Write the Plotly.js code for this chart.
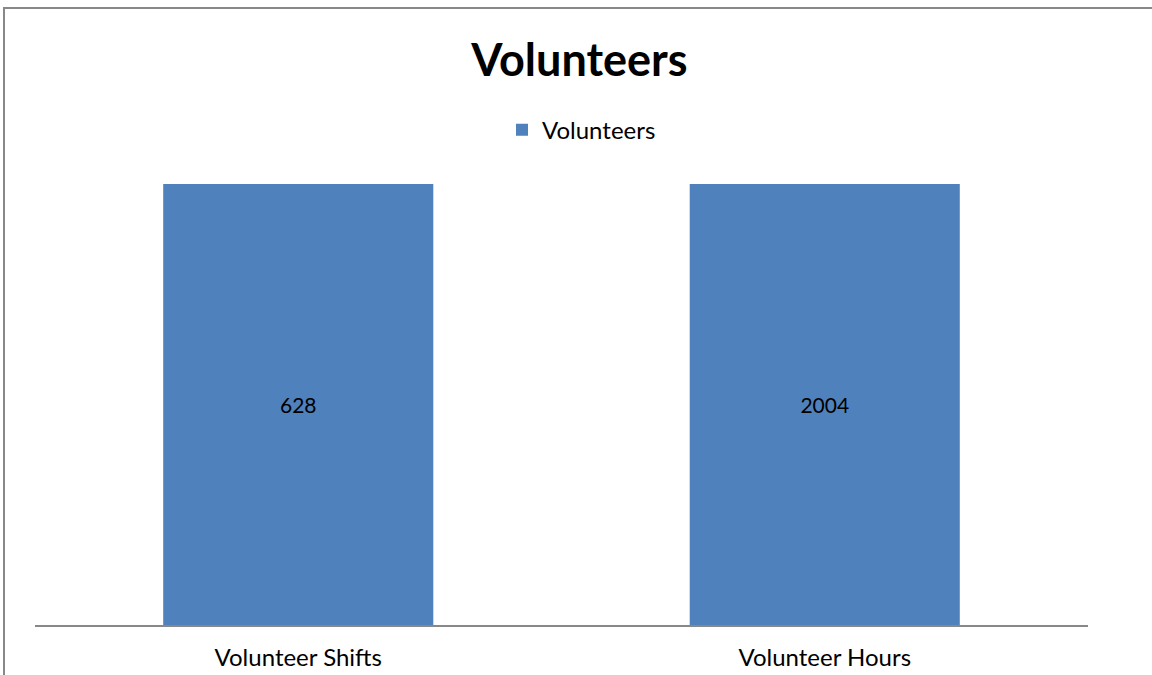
<!DOCTYPE html>
<html>
<head>
<meta charset="utf-8">
<script src="https://cdn.plot.ly/plotly-3.0.1.min.js"></script>
<style>
html,body{margin:0;padding:0;background:#fff;}
#wrap{position:relative;width:1152px;height:675px;}
#chart{width:1152px;height:675px;}
#frame{position:absolute;left:3px;top:7px;width:1160px;height:680px;border-left:2px solid #888;border-top:2px solid #888;pointer-events:none;}
</style>
</head>
<body>
<div id="wrap"><div id="chart"></div><div id="frame"></div></div>
<script>
const categories = ["Volunteer Shifts", "Volunteer Hours"];
const values = [628, 2004];
const seriesName = "Volunteers";

const FONT = "Lato, 'Open Sans', sans-serif";

const trace = {
  type: "bar",
  name: seriesName,
  x: categories,
  y: values,
  text: values.map(String),
  textposition: "inside",
  insidetextanchor: "middle",
  texttemplate: "%{text}",
  textfont: {family: FONT, size: 21, color: "#000"},
  marker: {color: "#4f81bd"},
  width: 0.513,
  hoverinfo: "x+text"
};

const layout = {
  width: 1152, height: 675,
  margin: {l: 35, r: 64, t: 184, b: 50},
  paper_bgcolor: "#fff", plot_bgcolor: "#fff",
  barmode: "stack",
  barnorm: "percent",
  showlegend: true,
  title: {text: "<b>Volunteers</b>", x: 0.503, xref: "container", xanchor: "center", y: 0.911, yanchor: "middle",
    font: {family: FONT, size: 45, color: "#000"}},
  legend: {orientation: "h", x: 0.519, xanchor: "center", y: 1.122, yanchor: "middle",
    font: {family: FONT, size: 24, color: "#000"}},
  xaxis: {showline: true, linecolor: "#888", linewidth: 2, ticks: "", ticklabelstandoff: 10,
    tickfont: {family: FONT, size: 24, color: "#000"}},
  yaxis: {visible: false, range: [0, 100], showgrid: false, zeroline: false},
  font: {family: FONT}
};

Plotly.newPlot("chart", [trace], layout, {displayModeBar: false, staticPlot: true});
</script>
</body>
</html>
